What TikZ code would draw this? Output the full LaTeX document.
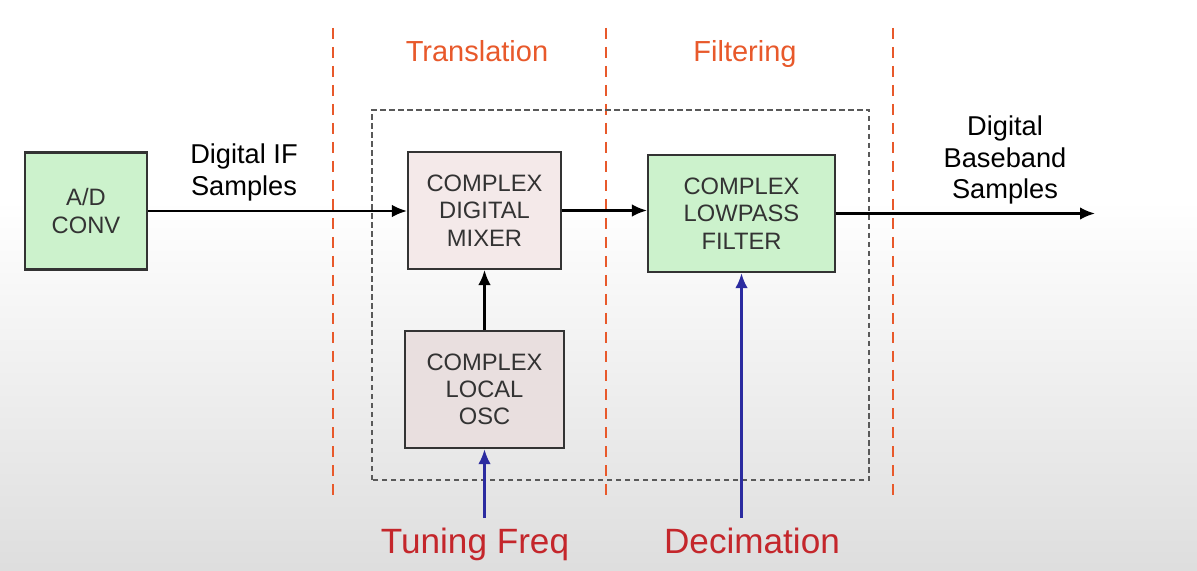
\documentclass[tikz,border=0pt]{standalone}
\usepackage{fontspec}
\setmainfont{Liberation Sans}
\usepackage{tikz}
\usetikzlibrary{arrows.meta,positioning,calc}
\definecolor{boxgreen}{HTML}{CCF2CC}
\definecolor{boxpink}{HTML}{F4E9E9}
\definecolor{boxrose}{HTML}{E9DFDF}
\definecolor{edge}{HTML}{333333}
\definecolor{orange}{HTML}{E8592B}
\definecolor{darkred}{HTML}{C4262B}
\definecolor{navy}{HTML}{2B2BA0}

\begin{document}
\begin{tikzpicture}[
  every node/.style={align=center},
  box/.style={draw=edge,line width=1.2pt,text=black!80,
    font=\fontsize{13.5}{15.5}\selectfont,minimum height=23.4mm},
  lbl/.style={font=\fontsize{15.5}{18}\selectfont},
  stage/.style={orange,anchor=base,font=\fontsize{16.5}{19}\selectfont},
  ctrl/.style={darkred,anchor=base,font=\fontsize{20}{22}\selectfont},
  arr/.style={-{Latex[length=3mm,width=2.5mm]},line width=1.3pt},
  ctrlarr/.style={-{Latex[length=3mm,width=2.5mm]},line width=1.5pt,navy},
  border/.style={orange,line width=1.2pt,dash pattern=on 2.2mm off 1.6mm}
]
% background
\fill[white] (0,0) rectangle (23.94,11.4);
\shade[top color=white,bottom color=black!13] (0,0) rectangle (23.94,7.4);
\useasboundingbox (0,0) rectangle (23.94,11.4);

% stage borders
\draw[border] (6.66,10.84) -- (6.66,1.46);
\draw[border] (12.12,10.84) -- (12.12,1.46);
\draw[border] (17.86,10.84) -- (17.86,1.46);
\node[stage] (trans) at (9.54,10.16) {Translation};
\node[stage] (filt) at (14.9,10.16) {Filtering};

% digital down converter
\draw[black!65,line width=1pt,dash pattern=on 1.1mm off 0.7mm]
  (7.44,1.8) rectangle (17.38,9.2);

\node[box,fill=boxgreen,minimum width=24.4mm] (adc) at (1.72,7.18) {A/D\\CONV};
\node[box,fill=boxpink,minimum width=30.6mm] (mixer) at (9.69,7.19) {COMPLEX\\DIGITAL\\MIXER};
\node[box,fill=boxrose,minimum width=31.8mm] (osc) at (9.69,3.61) {COMPLEX\\LOCAL\\OSC};
\node[box,fill=boxgreen,minimum width=37.4mm] (lpf) at (14.83,7.13) {COMPLEX\\LOWPASS\\FILTER};

\node[lbl] (ifs) at (4.88,7.95) {Digital IF\\Samples};
\node[lbl] (bbs) at (20.1,8.2) {Digital\\Baseband\\Samples};
\node[ctrl] (tune) at (9.5,0.33) {Tuning Freq};
\node[ctrl] (dec) at (15.04,0.33) {Decimation};

\coordinate (out) at (21.9,7.13);
\coordinate (tunein) at (9.69,1.04);
\coordinate (decin) at (14.83,1.04);

\draw[arr] (adc.east) -- (adc.east -| mixer.west);
\draw[arr] (mixer.east) -- (mixer.east -| lpf.west);
\draw[arr] (lpf.east) -- (out);
\draw[arr] (osc.north) -- (mixer.south);
\draw[ctrlarr] (tunein) -- (osc.south);
\draw[ctrlarr] (decin) -- (lpf.south);
\end{tikzpicture}
\end{document}
